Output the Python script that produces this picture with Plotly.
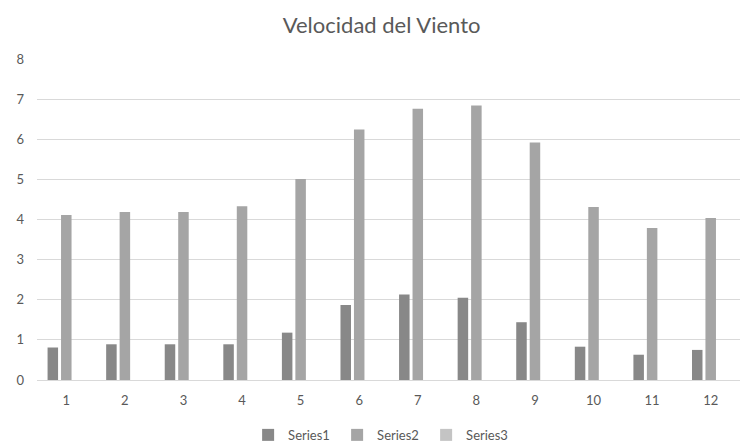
import plotly.graph_objects as go

# Monthly wind speed data
meses = ["1", "2", "3", "4", "5", "6", "7", "8", "9", "10", "11", "12"]
series1 = [0.81, 0.89, 0.89, 0.89, 1.18, 1.87, 2.13, 2.05, 1.44, 0.83, 0.63, 0.75]
series2 = [4.11, 4.19, 4.19, 4.33, 5.01, 6.24, 6.76, 6.84, 5.92, 4.31, 3.79, 4.04]
series3 = [0, 0, 0, 0, 0, 0, 0, 0, 0, 0, 0, 0]

nombres = ["Series1", "Series2", "Series3"]
colores = ["#888888", "#a5a5a5", "#c4c4c4"]

fig = go.Figure()
for nombre, valores, color in zip(nombres, [series1, series2, series3], colores):
    fig.add_trace(go.Bar(x=meses, y=valores, name=nombre,
                         marker=dict(color=color, line=dict(width=0))))

fig.update_layout(
    width=741, height=442,
    margin=dict(l=37, r=1, t=59, b=62),
    paper_bgcolor="white", plot_bgcolor="white",
    font=dict(family="Lato, Open Sans, sans-serif", color="#595959", size=13),
    title=dict(text="Velocidad del Viento", x=0.515, xanchor="center",
               y=0.943, yanchor="middle",
               font=dict(size=22, color="#595959")),
    barmode="group", bargap=0.31, bargroupgap=0.22,
    showlegend=True,
    legend=dict(orientation="h", xref="container", yref="container",
                x=0.515, xanchor="center", y=0.016, yanchor="middle",
                font=dict(size=13, color="#595959"),
                itemwidth=30, traceorder="normal", entrywidth=44),
)
fig.update_xaxes(type="category", showgrid=False, ticks="", showline=True,
                 linecolor="#d9d9d9", linewidth=1, tickfont=dict(size=13),
                 ticklabelstandoff=8)
fig.update_yaxes(range=[0, 8], dtick=1, showgrid=True, gridcolor="#d9d9d9",
                 gridwidth=1, zeroline=False, ticks="", ticklabelstandoff=12,
                 tickfont=dict(size=13))

fig.write_html("out.html")
